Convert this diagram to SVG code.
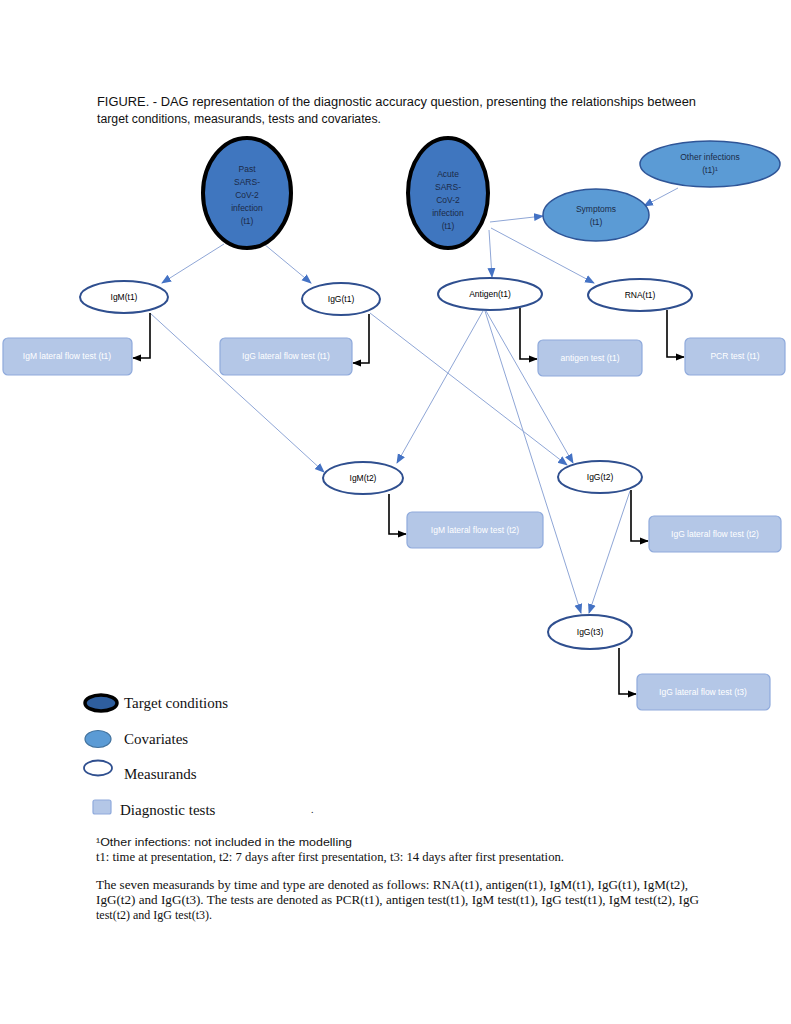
<svg xmlns="http://www.w3.org/2000/svg" width="791" height="1024" viewBox="0 0 791 1024">
<style>
.cap{font-family:"Liberation Sans",Arial,sans-serif;font-size:12.5px;fill:#111}
.tm{font-family:"Liberation Serif","Times New Roman",serif;fill:#111}
.nt{font-family:"Liberation Sans",Arial,sans-serif;font-size:8.5px;text-anchor:middle}
.tc{fill:#3f76bf;stroke:#000;stroke-width:4}
.cv{fill:#5b9bd5;stroke:#2f5597;stroke-width:1.5}
.ms{fill:#fff;stroke:#2f4f8f;stroke-width:2}
.ts{fill:#b4c7e7;stroke:#8faadc;stroke-width:1.2}
.dk{fill:#1c2b48}
.wt{fill:#fff}
.bl{fill:none;stroke:#8fa6d6;stroke-width:1;marker-end:url(#ab)}
.el{fill:none;stroke:#000;stroke-width:1.6;marker-end:url(#ak)}
</style>
<defs>
<marker id="ab" viewBox="0 0 10 10" refX="9" refY="5" markerWidth="10" markerHeight="10" markerUnits="userSpaceOnUse" orient="auto"><path d="M0,1 L10,5 L0,9 z" fill="#4472c4"/></marker>
<marker id="ak" viewBox="0 0 10 10" refX="9" refY="5" markerWidth="9" markerHeight="9" markerUnits="userSpaceOnUse" orient="auto"><path d="M0,1 L10,5 L0,9 z" fill="#000"/></marker>
</defs>
<rect width="791" height="1024" fill="#fff"/>
<text class="cap" x="97" y="106" textLength="599" lengthAdjust="spacingAndGlyphs">FIGURE. - DAG representation of the diagnostic accuracy question, presenting the relationships between</text>
<text class="cap" x="97" y="123" textLength="284" lengthAdjust="spacingAndGlyphs">target conditions, measurands, tests and covariates.</text>

<g id="connectors">
<line class="bl" x1="224" y1="244" x2="162" y2="283"/>
<line class="bl" x1="264" y1="244" x2="311" y2="283"/>
<line class="bl" x1="489" y1="230" x2="492" y2="277"/>
<line class="bl" x1="491" y1="228" x2="594" y2="283"/>
<line class="bl" x1="490" y1="222" x2="543" y2="216"/>
<line class="bl" x1="678" y1="188" x2="644" y2="206"/>
<line class="bl" x1="150" y1="313" x2="324" y2="472"/>
<line class="bl" x1="370" y1="313" x2="567" y2="465"/>
<line class="bl" x1="483" y1="311" x2="397" y2="463"/>
<line class="bl" x1="486" y1="311" x2="573" y2="463"/>
<line class="bl" x1="485" y1="311" x2="581" y2="613"/>
<line class="bl" x1="630" y1="491" x2="589" y2="613"/>
<polyline class="el" points="150,313 150,358 133,358"/>
<polyline class="el" points="369,314 369,363 353,363"/>
<polyline class="el" points="520,308 520,359 537,359"/>
<polyline class="el" points="667,310 667,357 684,357"/>
<polyline class="el" points="389,494 389,534 406,534"/>
<polyline class="el" points="631,490 631,541 648,541"/>
<polyline class="el" points="619,648 619,694 636,694"/>
</g>

<g id="past">
<ellipse class="tc" cx="247" cy="193" rx="44" ry="55"/>
<text class="nt dk" x="247" y="172">Past</text>
<text class="nt dk" x="247" y="185">SARS-</text>
<text class="nt dk" x="247" y="198">CoV-2</text>
<text class="nt dk" x="247" y="211">infection</text>
<text class="nt dk" x="247" y="224">(t1)</text>
</g>
<g id="acute">
<ellipse class="tc" cx="448" cy="193" rx="40" ry="55"/>
<text class="nt dk" x="448" y="177">Acute</text>
<text class="nt dk" x="448" y="190">SARS-</text>
<text class="nt dk" x="448" y="203">CoV-2</text>
<text class="nt dk" x="448" y="216">infection</text>
<text class="nt dk" x="448" y="229">(t1)</text>
</g>
<g id="other">
<ellipse class="cv" cx="710" cy="164" rx="70" ry="23"/>
<text class="nt dk" x="710" y="160">Other infections</text>
<text class="nt dk" x="710" y="173">(t1)¹</text>
</g>
<g id="symptoms">
<ellipse class="cv" cx="596" cy="215" rx="53" ry="26"/>
<text class="nt dk" x="596" y="212">Symptoms</text>
<text class="nt dk" x="596" y="225">(t1)</text>
</g>

<g id="igm1"><ellipse class="ms" cx="124" cy="297" rx="44" ry="16"/><text class="nt" x="124" y="300">IgM(t1)</text></g>
<g id="igg1"><ellipse class="ms" cx="341" cy="299" rx="39" ry="16"/><text class="nt" x="341" y="302">IgG(t1)</text></g>
<g id="antigen1"><ellipse class="ms" cx="490" cy="294" rx="52" ry="16"/><text class="nt" x="490" y="297">Antigen(t1)</text></g>
<g id="rna1"><ellipse class="ms" cx="640" cy="295" rx="52" ry="16"/><text class="nt" x="640" y="298">RNA(t1)</text></g>
<g id="igm2"><ellipse class="ms" cx="363" cy="478" rx="40" ry="16"/><text class="nt" x="363" y="481">IgM(t2)</text></g>
<g id="igg2"><ellipse class="ms" cx="600" cy="477" rx="42" ry="16"/><text class="nt" x="600" y="480">IgG(t2)</text></g>
<g id="igg3"><ellipse class="ms" cx="590" cy="632" rx="42" ry="17"/><text class="nt" x="590" y="635">IgG(t3)</text></g>

<g id="t_igm1"><rect class="ts" x="3" y="338" width="129" height="37" rx="5"/><text class="nt wt" x="67" y="359">IgM lateral flow test (t1)</text></g>
<g id="t_igg1"><rect class="ts" x="220" y="338" width="132" height="37" rx="5"/><text class="nt wt" x="286" y="359">IgG lateral flow test (t1)</text></g>
<g id="t_ag1"><rect class="ts" x="538" y="340" width="104" height="36" rx="5"/><text class="nt wt" x="590" y="361">antigen test (t1)</text></g>
<g id="t_pcr1"><rect class="ts" x="685" y="338" width="100" height="37" rx="5"/><text class="nt wt" x="735" y="359">PCR test (t1)</text></g>
<g id="t_igm2"><rect class="ts" x="407" y="512" width="136" height="36" rx="5"/><text class="nt wt" x="475" y="533">IgM lateral flow test (t2)</text></g>
<g id="t_igg2"><rect class="ts" x="649" y="516" width="132" height="36" rx="5"/><text class="nt wt" x="715" y="537">IgG lateral flow test (t2)</text></g>
<g id="t_igg3"><rect class="ts" x="637" y="674" width="133" height="36" rx="5"/><text class="nt wt" x="703" y="695">IgG lateral flow test (t3)</text></g>

<g id="legend">
<ellipse cx="101" cy="703" rx="16" ry="8" fill="#2e5e9e" stroke="#000" stroke-width="3.5"/>
<text class="tm" x="124" y="708" font-size="15">Target conditions</text>
<ellipse cx="98" cy="739" rx="13" ry="8.5" fill="#5b9bd5" stroke="#41719c" stroke-width="1.2"/>
<text class="tm" x="124" y="744" font-size="15">Covariates</text>
<ellipse cx="98" cy="768" rx="14" ry="7.5" fill="#fff" stroke="#2f4f8f" stroke-width="1.8"/>
<text class="tm" x="124" y="779" font-size="15">Measurands</text>
<rect x="93" y="800" width="18" height="14" rx="2" fill="#b4c7e7" stroke="#8faadc" stroke-width="1.2"/>
<text class="tm" x="120" y="815" font-size="15">Diagnostic tests</text>
<text class="tm" x="311" y="813" font-size="10">.</text>
</g>

<text font-family="'Liberation Sans',Arial,sans-serif" font-size="10.5" fill="#111" x="96" y="846" textLength="256" lengthAdjust="spacingAndGlyphs">¹Other infections: not included in the modelling</text>
<text class="tm" font-size="12" x="96" y="861" textLength="468" lengthAdjust="spacingAndGlyphs">t1: time at presentation, t2: 7 days after first presentation, t3: 14 days after first presentation.</text>
<text class="tm" font-size="12" x="96" y="889" textLength="592" lengthAdjust="spacingAndGlyphs">The seven measurands by time and type are denoted as follows: RNA(t1), antigen(t1), IgM(t1), IgG(t1), IgM(t2),</text>
<text class="tm" font-size="12" x="96" y="904" textLength="603" lengthAdjust="spacingAndGlyphs">IgG(t2) and IgG(t3). The tests are denoted as PCR(t1), antigen test(t1), IgM test(t1), IgG test(t1), IgM test(t2), IgG</text>
<text class="tm" font-size="12" x="96" y="919">test(t2) and IgG test(t3).</text>
</svg>
